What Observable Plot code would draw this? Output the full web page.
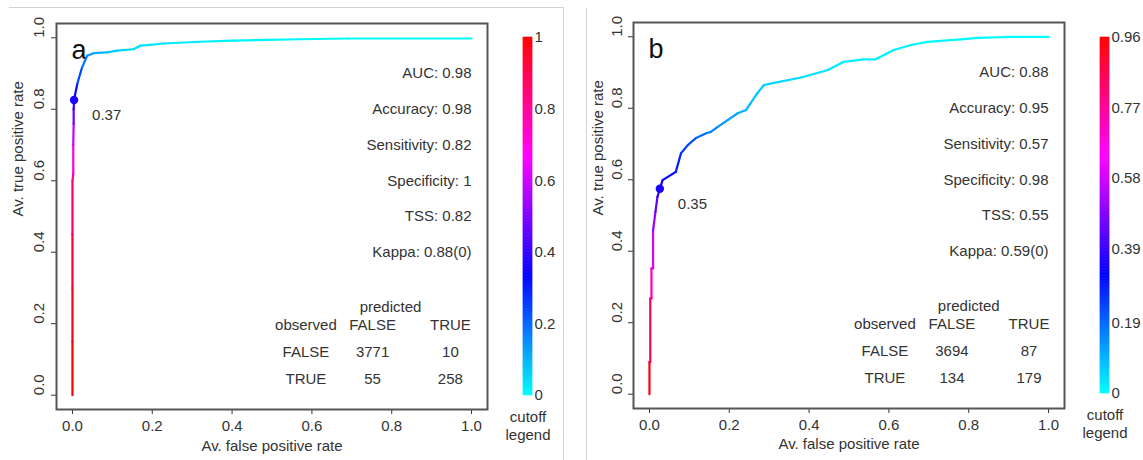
<!DOCTYPE html>
<html><head><meta charset="utf-8">
<script src="https://cdn.jsdelivr.net/npm/d3@7"></script>
<script src="https://cdn.jsdelivr.net/npm/@observablehq/plot@0.6"></script>
<style>
body{margin:0;background:#fff;}
#wrap{position:relative;width:1143px;height:460px;overflow:hidden;background:#fff;}
.p{position:absolute;top:0;}
.p svg{max-width:none;}
.sep{position:absolute;background:#d2d2d2;}
</style></head><body><div id="wrap"></div>
<script>
// ---------------- data ----------------
const axisTicks = [0, 0.2, 0.4, 0.6, 0.8, 1.0];

// panel a
const fprA = [0, 0, 0, 0, 0, 0.002, 0.002, 0.003, 0.003, 0.004, 0.012, 0.024, 0.037, 0.053, 0.087, 0.112, 0.153, 0.17, 0.195, 0.228, 0.32, 0.40, 0.49, 0.57, 0.69, 1.0];
const tprA = [0, 0.15, 0.30, 0.45, 0.60, 0.62, 0.70, 0.76, 0.80, 0.826, 0.871, 0.917, 0.950, 0.957, 0.959, 0.964, 0.968, 0.978, 0.980, 0.984, 0.989, 0.992, 0.994, 0.996, 0.998, 0.998];
const cutA = [1.0, 0.98, 0.95, 0.90, 0.82, 0.78, 0.66, 0.52, 0.42, 0.37, 0.28, 0.20, 0.15, 0.11, 0.08, 0.06, 0.045, 0.04, 0.035, 0.03, 0.022, 0.016, 0.012, 0.008, 0.004, 0];
const bestA = {fpr: 0.004, tpr: 0.826, cut: 0.37};
const bestLabelA = "0.37";
const metricsA = ["AUC: 0.98", "Accuracy: 0.98", "Sensitivity: 0.82", "Specificity: 1", "TSS: 0.82", "Kappa: 0.88(0)"];
const tableHeadA = ["observed", "FALSE", "TRUE"];
const tableRowsA = [["FALSE", "3771", "10"], ["TRUE", "55", "258"]];
const cbTicksA = [0, 0.2, 0.4, 0.6, 0.8, 1];
const cutMaxA = 1;

// panel b
const fprB = [0, 0, 0.002, 0.002, 0.005, 0.005, 0.009, 0.009, 0.015, 0.020, 0.026, 0.033, 0.066, 0.079, 0.096, 0.117, 0.142, 0.154, 0.171, 0.196, 0.221, 0.242, 0.254, 0.271, 0.287, 0.312, 0.38, 0.412, 0.447, 0.487, 0.537, 0.567, 0.612, 0.655, 0.697, 0.78, 0.823, 0.906, 1.0];
const tprB = [0, 0.09, 0.09, 0.268, 0.268, 0.352, 0.352, 0.458, 0.51, 0.552, 0.575, 0.599, 0.622, 0.674, 0.697, 0.717, 0.730, 0.734, 0.748, 0.767, 0.786, 0.795, 0.815, 0.843, 0.865, 0.871, 0.886, 0.896, 0.907, 0.930, 0.937, 0.937, 0.963, 0.977, 0.986, 0.993, 0.997, 1.0, 1.0];
const cutB = [0.96, 0.93, 0.90, 0.80, 0.76, 0.70, 0.64, 0.55, 0.47, 0.40, 0.35, 0.33, 0.30, 0.27, 0.23, 0.20, 0.17, 0.16, 0.14, 0.12, 0.10, 0.09, 0.08, 0.07, 0.06, 0.05, 0.04, 0.035, 0.03, 0.025, 0.02, 0.018, 0.015, 0.012, 0.01, 0.007, 0.005, 0.002, 0];
const bestB = {fpr: 0.026, tpr: 0.575, cut: 0.35};
const bestLabelB = "0.35";
const metricsB = ["AUC: 0.88", "Accuracy: 0.95", "Sensitivity: 0.57", "Specificity: 0.98", "TSS: 0.55", "Kappa: 0.59(0)"];
const tableHeadB = ["observed", "FALSE", "TRUE"];
const tableRowsB = [["FALSE", "3694", "87"], ["TRUE", "134", "179"]];
const cbTicksB = [0, 0.19, 0.39, 0.58, 0.77, 0.96];
const cutMaxB = 0.96;

// ---------------- drawing ----------------
const FONT = "'Liberation Sans', Arial, Helvetica, sans-serif";
const INK = "#333";
const rainbowHalf = t => d3.hsl(180 + 180 * Math.max(0, Math.min(1, t)), 1, 0.5).formatRgb();

function rocPlot(o) {
  const pts = o.fpr.map((x, i) => ({x, y: o.tpr[i], c: o.cut[i]}));
  const segs = pts.slice(1).map((p, i) => ({x1: pts[i].x, y1: pts[i].y, x2: p.x, y2: p.y, c: (pts[i].c + p.c) / 2}));
  const cells = [];
  o.head.forEach((t, j) => cells.push({t, j, r: 0}));
  o.rows.forEach((row, r) => row.forEach((t, j) => cells.push({t, j, r: r + 1})));
  const colX = o.colX, rowY = [0.195, 0.12, 0.045];
  return Plot.plot({
    width: 500, height: 460,
    marginLeft: o.ml, marginRight: o.mr, marginTop: o.mt, marginBottom: o.mb,
    style: {fontFamily: FONT, fontSize: "15px", color: INK, background: "transparent", overflow: "visible"},
    x: {domain: [-0.04, 1.04], ticks: axisTicks, tickFormat: d3.format(".1f"), tickSize: 5, tickPadding: 6, label: null},
    y: {domain: [-0.04, 1.04], ticks: axisTicks, tickFormat: () => "", tickSize: 5, label: null},
    color: {type: "linear", domain: [0, o.cmax], interpolate: rainbowHalf},
    marks: [
      Plot.frame({stroke: "#555", strokeWidth: 2}),
      Plot.text(axisTicks, {y: d => d, text: d => d3.format(".1f")(d), frameAnchor: "left", dx: o.tickDx, rotate: -90, fill: INK}),
      Plot.text(["Av. true positive rate"], {text: d => d, frameAnchor: "left", dx: o.titleDx, rotate: -90, fill: INK}),
      Plot.text(["Av. false positive rate"], {text: d => d, frameAnchor: "bottom", dy: o.titleDy, fill: INK}),
      Plot.text([o.letter], {text: d => d, frameAnchor: "top-left", dx: 15, dy: 16, fontSize: 27, textAnchor: "start", fill: "#111"}),
      Plot.link(segs, {x1: "x1", y1: "y1", x2: "x2", y2: "y2", stroke: "c", strokeWidth: 2.2, strokeLinecap: "round"}),
      Plot.dot([o.best], {x: "fpr", y: "tpr", fill: "cut", r: 4.2}),
      Plot.text([o.best], {x: "fpr", y: "tpr", text: () => o.bestLabel, dx: 18, dy: 15, textAnchor: "start", fill: INK}),
      Plot.text(o.metrics, {x: 1, y: (d, i) => 0.9 - 0.1 * i, text: d => d, textAnchor: "end", fill: INK}),
      Plot.text(["predicted"], {x: o.predX, y: 0.246, text: d => d, fill: INK}),
      Plot.text(cells, {x: d => colX[d.j], y: d => rowY[d.r], text: "t", fill: INK})
    ]
  });
}

function colorbar(o) {
  const n = 240;
  const bins = d3.range(n).map(i => ({y1: o.cmax * i / n, y2: o.cmax * (i + 1) / n, c: o.cmax * (i + 0.5) / n}));
  return Plot.plot({
    width: o.w, height: 460,
    marginLeft: o.ml, marginRight: o.mr, marginTop: o.mt, marginBottom: o.mb,
    style: {fontFamily: FONT, fontSize: "15px", color: INK, background: "transparent", overflow: "visible"},
    y: {domain: [0, o.cmax], axis: "right", ticks: o.ticks, tickFormat: d => String(d), tickSize: 0, tickPadding: 2, label: null},
    color: {type: "linear", domain: [0, o.cmax], interpolate: rainbowHalf},
    marks: [
      Plot.rect(bins, {y1: "y1", y2: "y2", fill: "c", stroke: "c", strokeWidth: 0.6}),
      Plot.text(["cutoff"], {text: d => d, frameAnchor: "bottom", dy: o.cdy, fill: INK}),
      Plot.text(["legend"], {text: d => d, frameAnchor: "bottom", dy: o.cdy + 18, fill: INK})
    ]
  });
}

const wrap = document.getElementById("wrap");
function place(node, left, width) {
  const d = document.createElement("div");
  d.className = "p";
  d.style.left = left + "px";
  d.style.width = width + "px";
  d.appendChild(node);
  wrap.appendChild(d);
}

place(rocPlot({
  fpr: fprA, tpr: tprA, cut: cutA, best: bestA, bestLabel: bestLabelA, metrics: metricsA,
  head: tableHeadA, rows: tableRowsA, cmax: cutMaxA, letter: "a",
  ml: 56, mr: 13, mt: 23, mb: 51, tickDx: -17, titleDx: -38, titleDy: 41,
  colX: [0.585, 0.752, 0.947], predX: 0.797
}), 0, 500);
place(colorbar({cmax: cutMaxA, ticks: cbTicksA, w: 60, ml: 18, mr: 33, mt: 37, mb: 65, cdy: 26}), 505, 60);

place(rocPlot({
  fpr: fprB, tpr: tprB, cut: cutB, best: bestB, bestLabel: bestLabelB, metrics: metricsB,
  head: tableHeadB, rows: tableRowsB, cmax: cutMaxB, letter: "b",
  ml: 53, mr: 16, mt: 22, mb: 52, tickDx: -16, titleDx: -35, titleDy: 40,
  colX: [0.59, 0.758, 0.951], predX: 0.80
}), 580, 500);
place(colorbar({cmax: cutMaxB, ticks: cbTicksB, w: 63, ml: 20, mr: 34, mt: 37, mb: 67, cdy: 26}), 1080, 63);

// screenshot panel borders
[[9, 7, 555, 1], [563, 7, 1, 453], [586, 8, 1, 452]].forEach(([l, t, w, h]) => {
  const s = document.createElement("div");
  s.className = "sep";
  Object.assign(s.style, {left: l + "px", top: t + "px", width: w + "px", height: h + "px"});
  wrap.appendChild(s);
});
</script></body></html>
